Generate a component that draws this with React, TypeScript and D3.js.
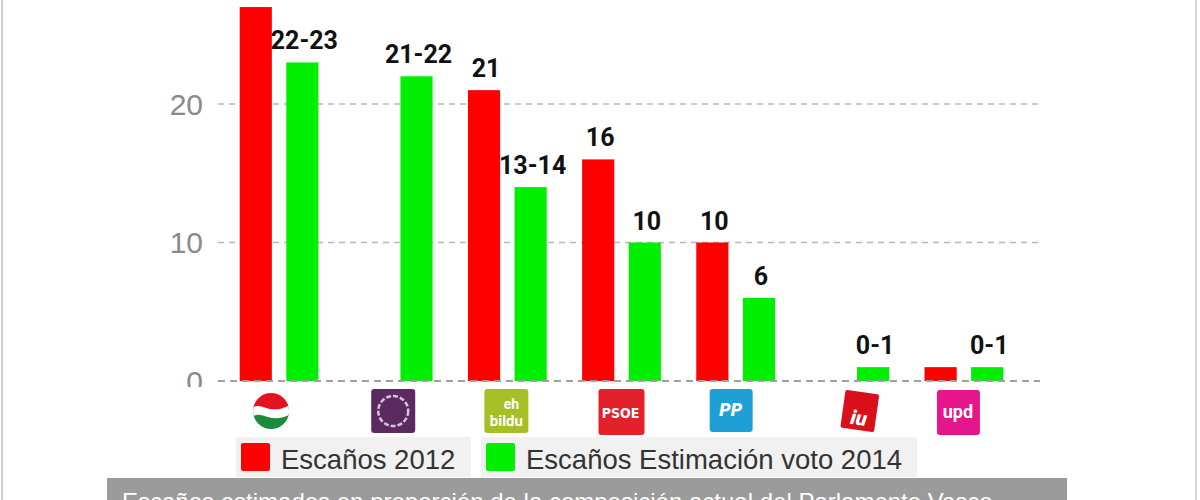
import * as React from "react";
import * as d3 from "d3";

// parties (categories) and seat counts
const parties = ["PNV", "Podemos", "EH Bildu", "PSOE", "PP", "IU", "UPyD"];
const seats2012 = [27, 0, 21, 16, 10, 0, 1];
const estimate2014 = [23, 22, 14, 10, 6, 1, 1];
const labels2012 = ["", "", "21", "16", "10", "", ""];
const labels2014 = ["22-23", "21-22", "13-14", "10", "6", "0-1", "0-1"];
const yTicks = [0, 10, 20];
const seriesNames = ["Escaños 2012", "Escaños Estimación voto 2014"];
const seriesColors = ["#ff0000", "#00ee00"];
const footnote = "Escaños estimados en proporción de la composición actual del Parlamento Vasco";

const W = 1200;
const H = 500;

const Logo = ({ party, cx }: { party: string, cx: number }) => {
    const top = 389;
    const s = 44;
    const x0 = cx - s / 2;
    if (party === "PNV") {
        return <g>
            <clipPath id="pnv-clip"><circle cx={cx - 4} cy={411} r={18} /></clipPath>
            <g clipPath="url(#pnv-clip)">
                <rect x={cx - 24} y={392} width={40} height={19} fill="#e3141d" />
                <rect x={cx - 24} y={411} width={40} height={20} fill="#1b8a3a" />
                <path d={`M${cx - 24},409 C${cx - 14},399 ${cx - 6},418 ${cx + 16},404 L${cx + 16},414 C${cx - 6},426 ${cx - 14},408 ${cx - 24},418 Z`} fill="#fff" />
            </g>
        </g>;
    }
    if (party === "Podemos") {
        return <g>
            <rect x={x0 + 4} y={top} width={s} height={s} rx={3} fill="#5b2a5e" />
            <circle cx={cx + 4} cy={top + 22} r={15} fill="none" stroke="#d6c3dc" strokeWidth={2.5} strokeDasharray="5,2" />
        </g>;
    }
    if (party === "EH Bildu") {
        return <g>
            <rect x={x0 + 3} y={top} width={s} height={s} rx={3} fill="#a6bf24" />
            <text x={cx + 8} y={top + 20} fill="#fff" fontFamily="Roboto, sans-serif" fontWeight={700} fontSize={14} textAnchor="middle">eh</text>
            <text x={cx + 3} y={top + 37} fill="#fff" fontFamily="Roboto, sans-serif" fontWeight={700} fontSize={15} textAnchor="middle">bildu</text>
        </g>;
    }
    if (party === "PSOE") {
        return <g>
            <rect x={x0 + 3} y={top} width={46} height={46} rx={3} fill="#e4212b" />
            <text x={cx + 3} y={top + 29} fill="#fff" fontFamily="'DejaVu Sans Condensed', 'Liberation Sans Narrow', sans-serif" fontWeight={700} fontSize={14} textAnchor="middle">PSOE</text>
        </g>;
    }
    if (party === "PP") {
        return <g>
            <rect x={x0} y={top} width={s - 1} height={s - 1} rx={3} fill="#1ea0d6" />
            <text x={cx - 1} y={top + 27} fill="#fff" fontFamily="Roboto, sans-serif" fontWeight={900} fontStyle="italic" fontSize={18} textAnchor="middle">PP</text>
        </g>;
    }
    if (party === "IU") {
        return <g transform={`translate(${cx + 14},${top + 22}) rotate(8)`}>
            <rect x={-17} y={-19} width={34} height={38} rx={2} fill="#d9101c" />
            <text x={0} y={14} fill="#fff" fontFamily="Roboto, sans-serif" fontWeight={900} fontStyle="italic" fontSize={20} textAnchor="middle">iu</text>
        </g>;
    }
    return <g>
        <rect x={x0 - 1} y={top + 1} width={s - 1} height={s + 1} rx={3} fill="#e5158c" />
        <text x={cx - 2} y={top + 29} fill="#fff" fontFamily="Roboto, sans-serif" fontWeight={700} fontSize={18} textAnchor="middle">upd</text>
    </g>;
};

export default function App() {
    const x = d3.scaleBand<string>().domain(parties).range([222, 1021]);
    const xSub = d3.scaleBand<string>().domain(["2012", "2014"]).range([0, x.bandwidth()])
        .paddingInner(0.31).paddingOuter(0.38);
    const y = d3.scaleLinear().domain([0, 20]).range([381, 104]);

    const series = [
        { key: "2012", values: seats2012, labels: labels2012, color: seriesColors[0] },
        { key: "2014", values: estimate2014, labels: labels2014, color: seriesColors[1] },
    ];

    const labelFont = "Roboto, 'DejaVu Sans', sans-serif";
    const axisFont = "'Liberation Sans', Arial, sans-serif";

    // legend layout
    const legendY = 437;
    const legendH = 40;
    const legendBoxes = [{ x: 236, w: 235 }, { x: 481, w: 436 }];

    return <svg width={W} height={H} style={{ position: "absolute", left: 0, top: 0 }}>
        <rect width={W} height={H} fill="#fff" />
        <line x1={2} x2={2} y1={0} y2={H} stroke="#cfcfcf" strokeWidth={2} />
        <line x1={1196} x2={1196} y1={0} y2={H} stroke="#d6d6d6" strokeWidth={2} />

        {/* gridlines (non-zero) */}
        {yTicks.filter(t => t !== 0).map(t =>
            <line key={t} x1={218} x2={1040} y1={y(t)} y2={y(t)} stroke="#b8b8b8" strokeWidth={1.5} strokeDasharray="6,5" />
        )}

        {/* y tick labels */}
        <clipPath id="ytick-clip"><rect x={0} y={0} width={215} height={387} /></clipPath>
        <g clipPath="url(#ytick-clip)">
            {yTicks.map(t =>
                <text key={t} x={203} y={y(t)} dy="0.36em" textAnchor="end" fill="#8a8a8a" fontFamily={axisFont} fontSize={30}>{t}</text>
            )}
        </g>

        {/* bars */}
        {series.map(s => parties.map((p, i) => s.values[i] > 0 &&
            <rect key={s.key + p} x={(x(p) || 0) + (xSub(s.key) || 0)} y={y(s.values[i])}
                width={xSub.bandwidth()} height={y(0) - y(s.values[i])} fill={s.color} />
        ))}

        {/* zero line drawn on top */}
        <line x1={218} x2={1040} y1={y(0)} y2={y(0)} stroke="#a0a0a0" strokeWidth={2} strokeDasharray="7,5" />

        {/* value labels */}
        {series.map(s => parties.map((p, i) => s.labels[i] &&
            <text key={"l" + s.key + p} x={(x(p) || 0) + (xSub(s.key) || 0) + xSub.bandwidth() / 2 + 2} y={y(s.values[i]) - 13}
                textAnchor="middle" fontFamily={labelFont} fontWeight={700} fontSize={25} fill="#111">{s.labels[i]}</text>
        ))}

        {/* party logos */}
        {parties.map(p => <Logo key={p} party={p} cx={(x(p) || 0) + x.bandwidth() / 2 - 4} />)}

        {/* legend */}
        {seriesNames.map((name, i) => <g key={name}>
            <rect x={legendBoxes[i].x} y={legendY} width={legendBoxes[i].w} height={legendH} fill="#f1f1f1" />
            <rect x={legendBoxes[i].x + 5} y={legendY + 6} width={29} height={28} rx={2} fill={seriesColors[i]} />
            <text x={legendBoxes[i].x + 45} y={legendY + 32} fontFamily={axisFont} fontSize={27.5} fill="#333">{name}</text>
        </g>)}

        {/* footnote bar, cut by the bottom edge as in the source */}
        <rect x={107} y={478} width={960} height={30} fill="#9b9b9b" />
        <text x={122} y={510} fontFamily={axisFont} fontSize={24} fill="#fff">{footnote}</text>
    </svg>;
}
